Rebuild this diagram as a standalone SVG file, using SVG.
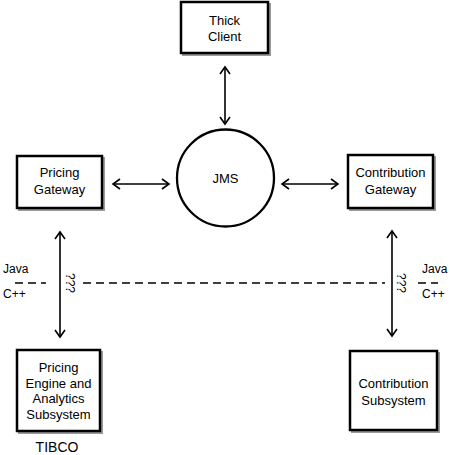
<svg xmlns="http://www.w3.org/2000/svg" width="450" height="455" viewBox="0 0 450 455">
<style>
.box{fill:#fff;stroke:#000;stroke-width:2.5}
.sh{fill:none;stroke:#9a9a9a;stroke-width:2}
text{font-family:"Liberation Sans",Arial,sans-serif;font-size:13px;fill:#000}
.c{text-anchor:middle}
.s{font-size:12px}
.ln{stroke:#000;stroke-width:1.6;fill:none}
.d{stroke:#000;stroke-width:1.3;stroke-dasharray:8 5;fill:none}
</style>
<defs>
<marker id="ah" viewBox="-9 -6 11 12" refX="0" refY="0" markerWidth="11" markerHeight="12" markerUnits="userSpaceOnUse" orient="auto-start-reverse">
<path d="M-7,-5 L0,0 L-7,5" fill="none" stroke="#000" stroke-width="1.6"/>
</marker>
</defs>
<rect width="450" height="455" fill="#fff"/>
<g id="connectors">
<line class="ln" x1="225" y1="67" x2="225" y2="124" marker-start="url(#ah)" marker-end="url(#ah)"/>
<line class="ln" x1="113" y1="184" x2="169" y2="184" marker-start="url(#ah)" marker-end="url(#ah)"/>
<line class="ln" x1="282" y1="184" x2="338" y2="184" marker-start="url(#ah)" marker-end="url(#ah)"/>
<line class="ln" x1="60" y1="232" x2="60" y2="337" marker-start="url(#ah)" marker-end="url(#ah)"/>
<line class="ln" x1="392" y1="231" x2="392" y2="336" marker-start="url(#ah)" marker-end="url(#ah)"/>
</g>
<g id="boundary">
<line class="d" x1="15" y1="283" x2="46" y2="283"/>
<line class="d" x1="83" y1="283" x2="385" y2="283"/>
<line class="d" x1="418" y1="283" x2="438" y2="283"/>
<text x="3" y="273" class="s">Java</text>
<text x="3" y="298" class="s">C++</text>
<text x="422" y="273" class="s">Java</text>
<text x="422" y="298" class="s">C++</text>
<text class="c s" transform="translate(66,283) rotate(90)">???</text>
<text class="c s" transform="translate(397,283) rotate(90)">???</text>
</g>
<g id="thick-client">
<rect class="sh" x="183" y="4" width="87" height="51"/>
<rect class="box" x="181" y="2" width="87" height="51"/>
<text class="c" x="224.5" y="25">Thick</text>
<text class="c" x="224.5" y="41">Client</text>
</g>
<g id="jms">
<circle cx="225.5" cy="178" r="48.5" fill="#fff" stroke="#000" stroke-width="2.3"/>
<text class="c" x="225.5" y="183">JMS</text>
</g>
<g id="pricing-gateway">
<rect class="sh" x="19" y="158" width="85" height="52"/>
<rect class="box" x="17" y="156" width="85" height="52"/>
<text class="c" x="59.5" y="177">Pricing</text>
<text class="c" x="59.5" y="194">Gateway</text>
</g>
<g id="contribution-gateway">
<rect class="sh" x="350" y="157" width="85" height="53"/>
<rect class="box" x="348" y="155" width="85" height="53"/>
<text class="c" x="390.5" y="177">Contribution</text>
<text class="c" x="390.5" y="194">Gateway</text>
</g>
<g id="pricing-engine">
<rect class="sh" x="19" y="352" width="83" height="81"/>
<rect class="box" x="17" y="350" width="83" height="81"/>
<text class="c" x="58.5" y="372">Pricing</text>
<text class="c" x="58.5" y="388">Engine and</text>
<text class="c" x="58.5" y="403">Analytics</text>
<text class="c" x="58.5" y="419">Subsystem</text>
<text class="c" x="57" y="452" style="font-size:14px">TIBCO</text>
</g>
<g id="contribution-subsystem">
<rect class="sh" x="352" y="353" width="87" height="79"/>
<rect class="box" x="350" y="351" width="87" height="79"/>
<text class="c" x="393.5" y="388">Contribution</text>
<text class="c" x="393.5" y="405">Subsystem</text>
</g>
</svg>
